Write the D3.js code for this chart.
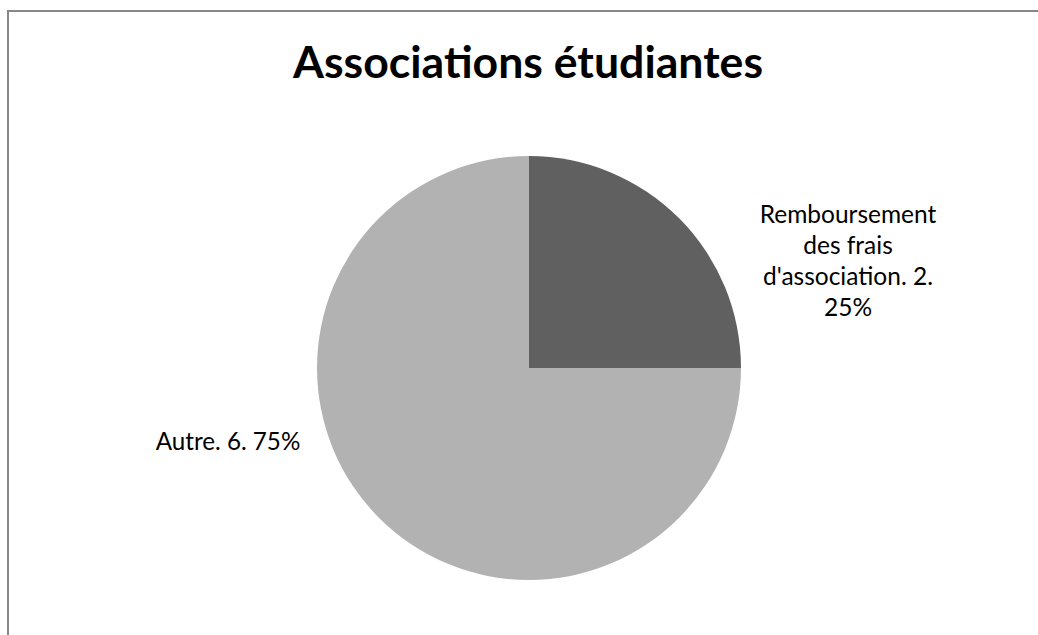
<!DOCTYPE html>
<html><head><meta charset="utf-8">
<script src="https://cdn.jsdelivr.net/npm/d3@7"></script>
<style>body{margin:0;background:#fff;}svg{display:block;}</style>
</head><body>
<svg id="c" width="1038" height="635"></svg>
<script>
const categories = ["Remboursement des frais d'association", "Autre"];
const values = [2, 6];
const percents = ["25%", "75%"];
const colors = ["#606060", "#b2b2b2"];
const title = "Associations étudiantes";

const svg = d3.select("#c");
const font = "Lato, 'Open Sans', sans-serif";

// frame
svg.append("path").attr("d", "M8,635 L8,11 L1038,11")
  .attr("fill", "none").attr("stroke", "#888").attr("stroke-width", 2);

svg.append("text").attr("x", 528).attr("y", 78).attr("text-anchor", "middle")
  .attr("font-family", font).attr("font-weight", "bold").attr("font-size", 44.5)
  .attr("textLength", 470).attr("lengthAdjust", "spacingAndGlyphs")
  .attr("fill", "#000").text(title);

const cx = 529, cy = 368, r = 212;
const pie = d3.pie().sort(null).value(d => d)(values);
const arc = d3.arc().innerRadius(0).outerRadius(r);
const g = svg.append("g").attr("transform", `translate(${cx},${cy})`);
g.selectAll("path").data(pie).enter().append("path")
  .attr("d", arc).attr("fill", (d, i) => colors[i]);

// labels
const lab1 = ["Remboursement", "des frais", "d'association. " + values[0] + ".", percents[0]];
const t1 = svg.append("text").attr("font-family", font).attr("font-size", 24.5)
  .attr("text-anchor", "middle").attr("fill", "#000");
lab1.forEach((s, i) => t1.append("tspan").attr("x", 848).attr("y", 223 + i * 31).text(s));

svg.append("text").attr("font-family", font).attr("font-size", 24.2)
  .attr("text-anchor", "middle").attr("fill", "#000")
  .attr("x", 228).attr("y", 450).text(categories[1] + ". " + values[1] + ". " + percents[1]);
</script>
</body></html>
